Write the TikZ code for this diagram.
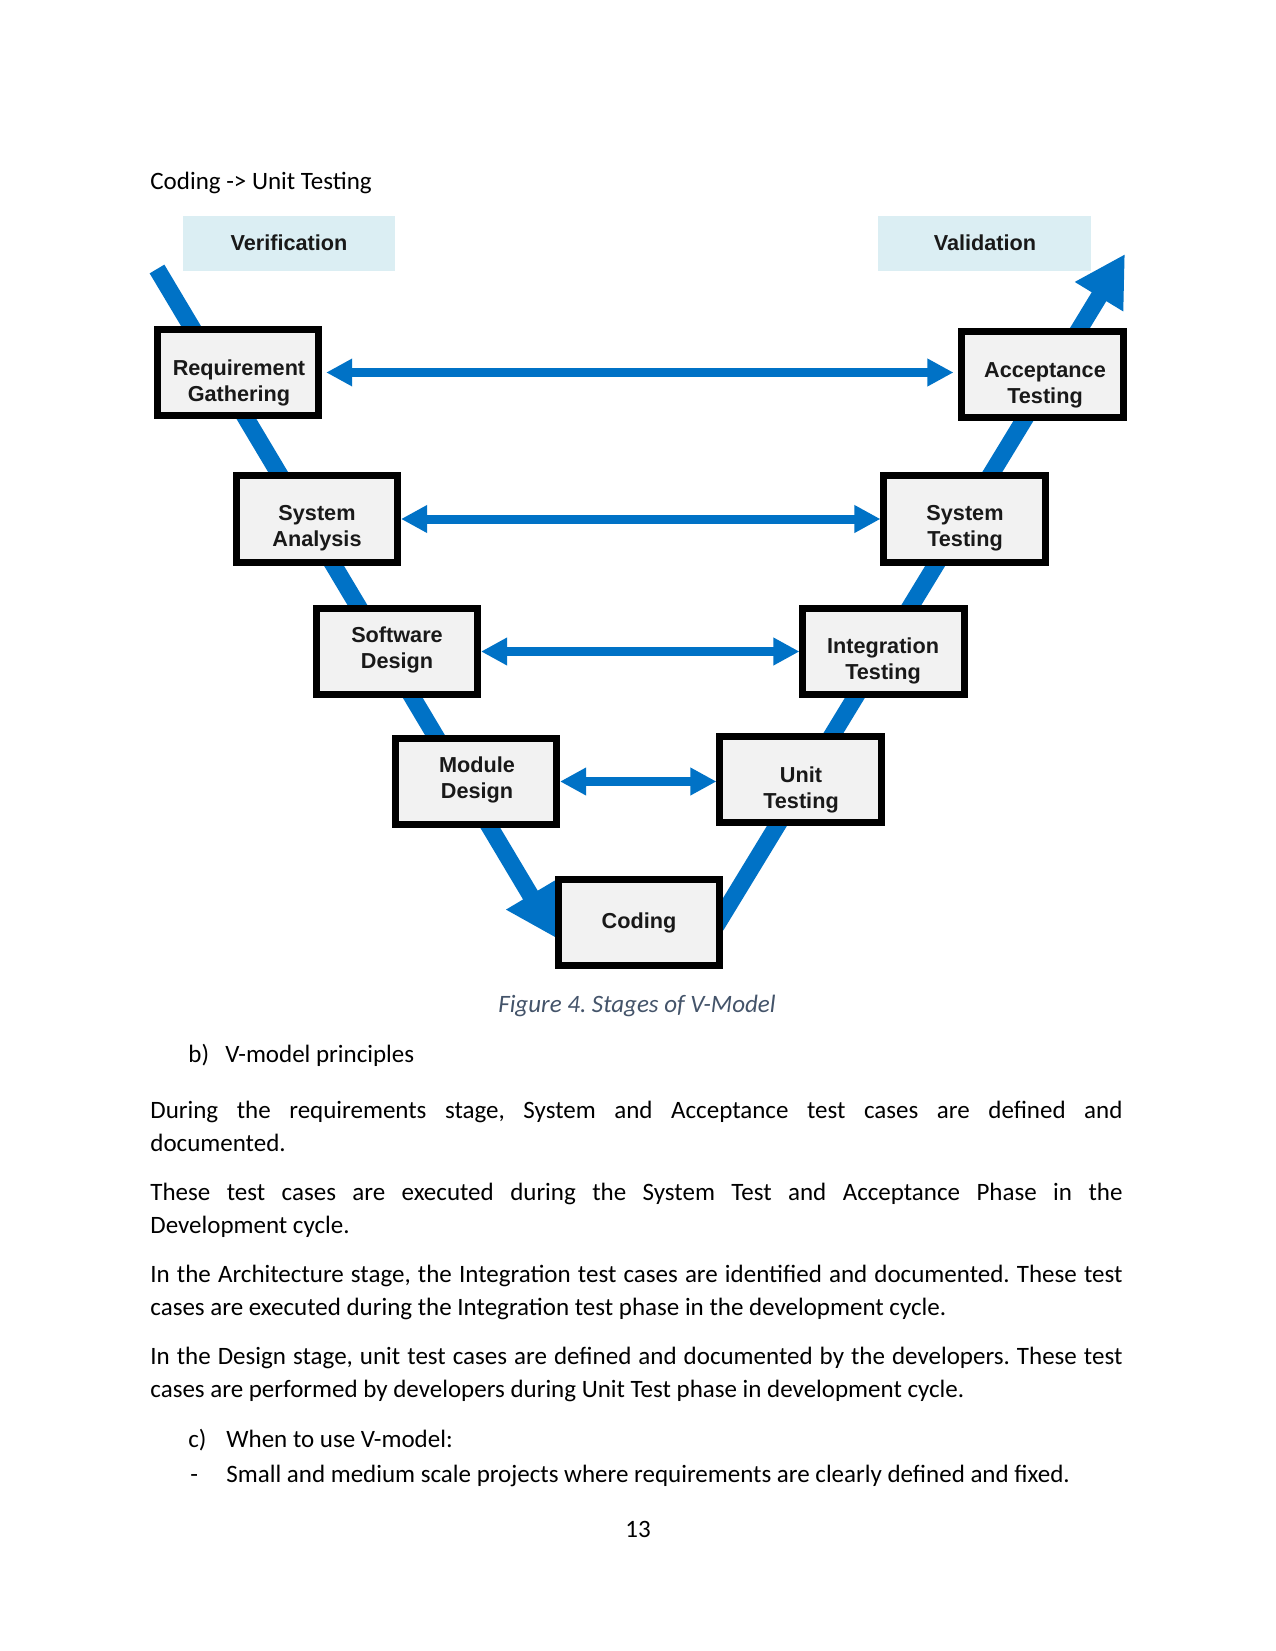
\documentclass[tikz,border=0pt]{standalone}
\usepackage{fontspec}
\setmainfont{Carlito}
\newfontfamily\arialfont{Liberation Sans}
\usetikzlibrary{arrows.meta}
\definecolor{vblue}{RGB}{0,114,198}
\definecolor{vlight}{RGB}{219,238,243}
\definecolor{boxgray}{RGB}{242,242,242}
\definecolor{capcol}{RGB}{68,84,106}
\pgfdeclarelayer{bg}
\pgfsetlayers{bg,main}
\frenchspacing
\begin{document}
\begin{tikzpicture}[x=0.48pt,y=-0.48pt,
  stage/.style={draw=black, fill=boxgray, line width=3.36pt, minimum width=77.3pt, minimum height=41.3pt, inner sep=0pt},
  stagetext/.style={font=\arialfont\bfseries\fontsize{10.4}{12.5}\selectfont, align=center, inner sep=0pt, text=black!90},
  phase/.style={fill=vlight, minimum width=101.8pt, minimum height=26.4pt, inner sep=0pt},
  phasetext/.style={font=\arialfont\bfseries\fontsize{10.4}{12.5}\selectfont, inner sep=0pt, anchor=base, text=black!90},
  dbl/.style={vblue, line width=4.32pt, {Triangle[length=12.5pt,width=12.5pt]}-{Triangle[length=12.5pt,width=12.5pt]}},
  vline/.style={vblue, line width=8.2pt, -{Triangle[length=24pt,width=25.4pt]}},
  body/.style={font=\fontsize{12}{14.6}\selectfont, inner sep=0pt, anchor=base west},
  bodyc/.style={font=\fontsize{12}{14.6}\selectfont, inner sep=0pt, anchor=base},
]
\useasboundingbox (0,0) rectangle (1275,1651);

% phase labels
\node[phase] (verif) at (289,243.5) {};
\node[phasetext] (veriftxt) at (289,251) {Verification};
\node[phase] (valid) at (984.5,243.5) {};
\node[phasetext] (validtxt) at (985,251) {Validation};

% stage boxes
\node[stage] (req)  at (238,372.5) {};
\node[stage] (acc)  at (1042.5,374.5) {};
\node[stage] (sysa) at (317,519) {};
\node[stage] (syst) at (964.5,519) {};
\node[stage] (swd)  at (397,651.5) {};
\node[stage] (intt) at (883.5,651.5) {};
\node[stage] (modd) at (476,781.5) {};
\node[stage] (unit) at (800.5,779.5) {};
\node[stage] (code) at (639,922.5) {};

\node[stagetext] (reqt)  at (239,383) {Requirement\\Gathering};
\node[stagetext] (acct)  at (1045,385.5) {Acceptance\\Testing};
\node[stagetext] (sysat) at (317,528.5) {System\\Analysis};
\node[stagetext] (systt) at (965,528.5) {System\\Testing};
\node[stagetext] (swdt)  at (397,650) {Software\\Design};
\node[stagetext] (inttt) at (883,661) {Integration\\Testing};
\node[stagetext] (moddt) at (477,780) {Module\\Design};
\node[stagetext] (unitt) at (801,789.5) {Unit\\Testing};
\node[stagetext] (codet) at (639,923) {Coding};

% V lines and horizontal arrows (behind boxes)
\coordinate (vtop) at (157,269);
\coordinate (vtip) at (556,938);
\coordinate (vbot) at (716,926);
\coordinate (vend) at (1125,254);
\begin{pgfonlayer}{bg}
\fill[white] (0,0) rectangle (1275,1651);
\draw[vline] (vtop) -- (vtip);
\draw[vline] (vbot) -- (vend);
\draw[dbl, shorten <=2pt, shorten >=2.4pt] (req.east) -- (req.east -| acc.west);
\draw[dbl] (sysa.east) -- (syst.west);
\draw[dbl] (swd.east) -- (intt.west);
\draw[dbl] (modd.east) -- (modd.east -| unit.west);
\end{pgfonlayer}

% page text
\node[body] (head) at (150,190) {Coding -> Unit Testing};
\node[font=\itshape\fontsize{12}{14.6}\selectfont, text=capcol, inner sep=0pt, anchor=base] (cap) at (637,1012) {Figure 4. Stages of V-Model};
\node[body] (bm) at (188,1062) {b)};
\node[body] (bt) at (225,1062) {V-model principles};
\node[body] (p1a) at (150,1118) {\makebox[466.56pt][s]{During the requirements stage, System and Acceptance test cases are defined and}};
\node[body] (p1b) at (150,1151) {documented.};
\node[body] (p2a) at (150,1200) {\makebox[466.56pt][s]{These test cases are executed during the System Test and Acceptance Phase in the}};
\node[body] (p2b) at (150,1233) {Development cycle.};
\node[body] (p3a) at (150,1282) {\makebox[466.56pt][s]{In the Architecture stage, the Integration test cases are identified and documented. These test}};
\node[body] (p3b) at (150,1315) {cases are executed during the Integration test phase in the development cycle.};
\node[body] (p4a) at (150,1364) {\makebox[466.56pt][s]{In the Design stage, unit test cases are defined and documented by the developers. These test}};
\node[body] (p4b) at (150,1397) {cases are performed by developers during Unit Test phase in development cycle.};
\node[body] (cm) at (188,1447) {c)};
\node[body] (ct) at (226,1447) {When to use V-model:};
\node[body] (dm) at (190,1482) {-};
\node[body] (dt) at (226,1482) {Small and medium scale projects where requirements are clearly defined and fixed.};
\node[bodyc] (pg) at (638,1537) {13};
\end{tikzpicture}
\end{document}
